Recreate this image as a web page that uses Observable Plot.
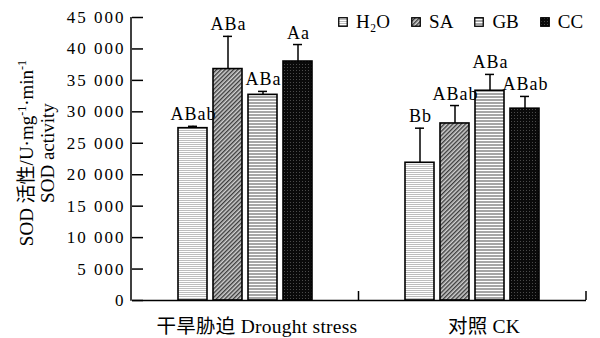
<!DOCTYPE html>
<html><head><meta charset="utf-8">
<script src="https://cdn.jsdelivr.net/npm/d3@7"></script>
<script src="https://cdn.jsdelivr.net/npm/@observablehq/plot@0.6"></script>
<style>
body{margin:0;background:#fff;}
#wrap{position:relative;width:600px;height:338px;font-family:'Liberation Serif','Times New Roman','Noto Sans CJK SC',serif;}
#legend{position:absolute;top:11px;left:338px;display:flex;align-items:center;font-size:19px;color:#000;white-space:nowrap;}
.item{display:flex;align-items:center;margin-right:21px}
.item svg{margin-right:8px}
#ylabel{position:absolute;left:-78px;top:132px;width:230px;height:42px;transform:rotate(-90deg);transform-origin:50% 50%;
  text-align:center;font-size:19px;line-height:21px;color:#000;white-space:nowrap;}
#ylabel sup{font-size:12px;line-height:0;vertical-align:0;position:relative;top:-7px;}
g[aria-label="y-axis tick label"] text{letter-spacing:2px;}
g[aria-label="text"] text{letter-spacing:1px;}
g[aria-label="fx-axis tick label"] text{letter-spacing:0.25px;}
</style></head><body><div id="wrap"><div id="chart"></div><div id="legend"></div>
<div id="ylabel"></div></div>
<script>
// ---- data ----
const groups = ["干旱胁迫 Drought stress", "对照 CK"];
const series = ["H₂O", "SA", "GB", "CC"];
const droughtValues = [27400, 36800, 32700, 38000];
const droughtErrors = [300, 5200, 550, 2700];
const droughtLetters = ["ABab", "ABa", "ABa", "Aa"];
const ckValues = [21900, 28150, 33350, 30500];
const ckErrors = [5500, 2850, 2600, 1950];
const ckLetters = ["Bb", "ABab", "ABa", "ABab"];
const yTicks = [0, 5000, 10000, 15000, 20000, 25000, 30000, 35000, 40000, 45000];
const yLabelLines = ["SOD 活性/U·mg<sup>-1</sup>·min<sup>-1</sup>", "SOD activity"];

const values = [droughtValues, ckValues];
const errors = [droughtErrors, ckErrors];
const letters = [droughtLetters, ckLetters];
const rows = [];
groups.forEach((g, gi) => series.forEach((s, si) => rows.push({
  group: g, series: s, value: values[gi][si], err: errors[gi][si], letter: letters[gi][si]
})));
const patId = s => "pat" + series.indexOf(s);
const fmt = d => d3.format(",")(d).replace(/,/g, " ");
const font = "'Liberation Serif','Times New Roman','Noto Sans CJK SC',serif";

const chart = Plot.plot({
  width: 600, height: 338,
  marginLeft: 131, marginRight: 14, marginTop: 17, marginBottom: 38,
  style: {fontFamily: font, fontSize: "18px", background: "white", color: "black"},
  fx: {domain: groups, padding: 0},
  x: {domain: series, paddingInner: 0.17, paddingOuter: 1.24, axis: null},
  y: {domain: [0, 45000], axis: null},
  marks: [
    ...series.map(s => Plot.barY(rows.filter(r => r.series === s), {
      fx: "group", x: "series", y: "value", fill: `url(#${patId(s)})`, stroke: "black", strokeWidth: 1.6
    })),
    Plot.ruleX(rows, {fx: "group", x: "series", y1: "value", y2: d => d.value + d.err, stroke: "black", strokeWidth: 1.5}),
    Plot.tickY(rows, {fx: "group", x: "series", y: d => d.value + d.err, inset: 10, stroke: "black", strokeWidth: 1.5}),
    Plot.text(rows, {fx: "group", x: "series", y: d => d.value + d.err, text: "letter", lineAnchor: "bottom", dy: -6, dx: 0.5, fontSize: 18}),
    Plot.ruleY([0], {stroke: "black", strokeWidth: 1.5}),
    Plot.axisY({ticks: yTicks, tickFormat: fmt, tickSize: -11, tickPadding: 18, fontSize: 17, strokeWidth: 1.5, label: null}),
    Plot.axisFx({anchor: "bottom", tickSize: 0, tickPadding: 19, dx: 11, fontSize: 19.5, label: null})
  ]
});

// patterns
const defs = d3.create("svg:defs");
function pattern(id, w, h, build) {
  const p = defs.append("pattern").attr("id", id).attr("patternUnits", "userSpaceOnUse").attr("width", w).attr("height", h);
  build(p);
}
pattern("pat0", 4, 2, p => {
  p.append("rect").attr("width", 4).attr("height", 2).attr("fill", "#fff");
  p.append("rect").attr("width", 4).attr("height", 1).attr("fill", "#bdbdbd");
});
pattern("pat1", 3, 3, p => {
  p.attr("patternTransform", "rotate(45)");
  p.append("rect").attr("width", 3).attr("height", 3).attr("fill", "#d0d0d0");
  p.append("rect").attr("width", 1.4).attr("height", 3).attr("fill", "#3c3c3c");
});
pattern("pat2", 4, 3, p => {
  p.append("rect").attr("width", 4).attr("height", 3).attr("fill", "#fff");
  p.append("rect").attr("width", 4).attr("height", 2).attr("fill", "#a6a6a6");
});
pattern("pat3", 3, 3, p => {
  p.append("rect").attr("width", 3).attr("height", 3).attr("fill", "#0a0a0a");
  p.append("rect").attr("x", 1).attr("y", 1).attr("width", 1).attr("height", 1).attr("fill", "#4a4a4a");
});
chart.insertBefore(defs.node(), chart.firstChild);

// y-axis line and category boundary ticks, from the plot's scales
const fxs = chart.scale("fx"), ys = chart.scale("y");
const yOf = v => ys.range[0] + (v - ys.domain[0]) / (ys.domain[1] - ys.domain[0]) * (ys.range[1] - ys.range[0]);
const x0 = fxs.range[0], step = (fxs.range[1] - fxs.range[0]) / fxs.domain.length;
const g = d3.select(chart).append("g").attr("stroke", "black").attr("stroke-width", 1.5);
g.append("line").attr("x1", x0).attr("x2", x0).attr("y1", yOf(0) + 0.75).attr("y2", yOf(ys.domain[1]));
fxs.domain.forEach((d, i) => g.append("line")
  .attr("x1", x0 + step * (i + 1)).attr("x2", x0 + step * (i + 1))
  .attr("y1", yOf(0)).attr("y2", yOf(0) - 9));

document.getElementById("chart").appendChild(chart);

// y label (two lines, rotated)
document.getElementById("ylabel").innerHTML = yLabelLines.map(l => `<div>${l}</div>`).join("");

// legend
const leg = d3.select("#legend");
series.forEach(s => {
  const it = leg.append("div").attr("class", "item");
  const sw = it.append("svg").attr("width", 10).attr("height", 10);
  sw.append("rect").attr("x", 0.75).attr("y", 0.75).attr("width", 8.5).attr("height", 8.5)
    .attr("fill", `url(#${patId(s)})`).attr("stroke", "black").attr("stroke-width", 1.3);
  it.append("span").text(s);
});
</script></body></html>
